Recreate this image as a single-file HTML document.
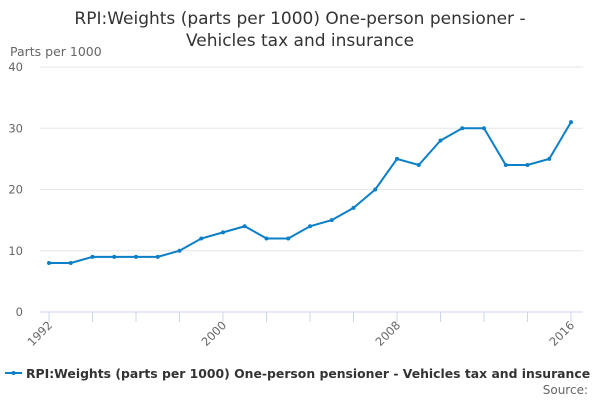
<!DOCTYPE html>
<html><head><meta charset="utf-8"><style>
body{margin:0;background:#fff;font-family:"Liberation Sans","DejaVu Sans",sans-serif;}
</style></head><body>
<svg width="600" height="400" xmlns="http://www.w3.org/2000/svg" font-family="DejaVu Sans, Liberation Sans, sans-serif">
<text x="300" y="24" text-anchor="middle" font-size="17" fill="#333">RPI:Weights (parts per 1000) One-person pensioner -</text>
<text x="300" y="46" text-anchor="middle" font-size="17" fill="#333">Vehicles tax and insurance</text>
<text x="10" y="56" font-size="12.5" fill="#666">Parts per 1000</text>
<g id="grid"></g><g id="xaxis"></g><g id="series"></g>
<g>
<line x1="5" y1="373" x2="22" y2="373" stroke="#0b7fc7" stroke-width="2"/>
<circle cx="13.5" cy="373" r="2" fill="#0b7fc7"/>
<text x="26" y="378" font-size="12.4" font-weight="bold" fill="#333">RPI:Weights (parts per 1000) One-person pensioner - Vehicles tax and insurance</text>
</g>
<text x="588" y="394" text-anchor="end" font-size="12" fill="#666">Source:</text>
</svg>
<script>
const years=[1992,1993,1994,1995,1996,1997,1998,1999,2000,2001,2002,2003,2004,2005,2006,2007,2008,2009,2010,2011,2012,2013,2014,2015,2016];
const values=[8,8,9,9,9,9,10,12,13,14,12,12,14,15,17,20,25,24,28,30,30,24,24,25,31];
const yTicks=[0,10,20,30,40];
const xLabels=[1992,2000,2008,2016];
const NS="http://www.w3.org/2000/svg";
const x=y=>49+(y-1992)*(571-49)/24;
const yS=v=>312-v*(312-67)/40;
function mk(t,a,p){const e=document.createElementNS(NS,t);for(const k in a)e.setAttribute(k,a[k]);p.appendChild(e);return e;}
const g=document.getElementById('grid');
yTicks.forEach(v=>{
 const l=mk('line',{x1:40,x2:583,y1:yS(v),y2:yS(v),stroke:v===0?'#ccd6eb':'#e6e6e6'},g);
 
 
 const t=mk('text',{x:23,y:yS(v)+4,'text-anchor':'end','font-size':11.5,fill:'#666'},g);t.textContent=v;
 
 
});
const xa=document.getElementById('xaxis');
for(let yr=1992;yr<=2016;yr+=2){
 const l=mk('line',{x1:x(yr),x2:x(yr),y1:312,y2:322,stroke:'#ccd6eb'},xa);
 
 
}
xLabels.forEach(yr=>{
 const t=mk('text',{x:x(yr)+4,y:326,'text-anchor':'end','font-size':11.5,fill:'#666',transform:`rotate(-45 ${x(yr)+4} 326)`},xa);t.textContent=yr;
 
 
});
const s=document.getElementById('series');
const p=mk('polyline',{points:years.map((yr,i)=>x(yr)+','+yS(values[i])).join(' '),fill:'none',stroke:'#0b7fc7','stroke-width':2},s);


years.forEach((yr,i)=>{
 const c=mk('circle',{cx:x(yr),cy:yS(values[i]),r:2,fill:'#0b7fc7'},s);
 
 
});
</script>
</body></html>
